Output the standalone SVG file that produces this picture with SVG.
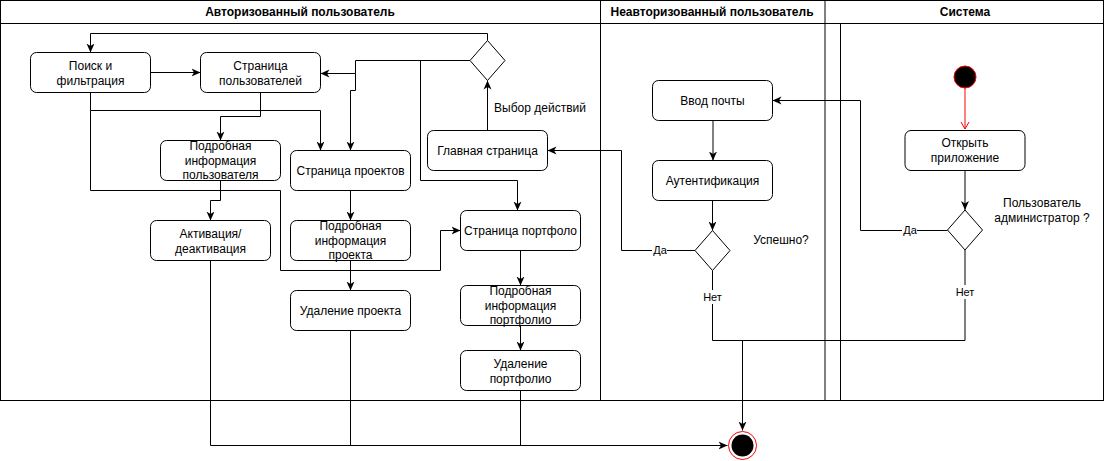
<svg xmlns="http://www.w3.org/2000/svg" width="1106" height="461" viewBox="0 0 1106 461">
<style>
text{font-family:"Liberation Sans",Arial,sans-serif;font-size:12px;fill:#000;text-anchor:middle}
.hdr{font-weight:bold}
.lbl{font-size:11px}
.node{fill:#fff;stroke:#000;stroke-width:1}
.edge{fill:none;stroke:#000;stroke-width:1}
.lane{fill:none;stroke:#000;stroke-width:1}
</style>
<defs>
<marker id="arr" markerUnits="userSpaceOnUse" markerWidth="10" markerHeight="10" viewBox="0 0 10 8" refX="9" refY="4" orient="auto">
<path d="M0,0 L9,4 L0,8 L2.5,4 z" fill="#000"/>
</marker>
<marker id="open" markerUnits="userSpaceOnUse" markerWidth="10" markerHeight="10" viewBox="0 0 10 10" refX="8" refY="5" orient="auto">
<path d="M1,1 L8,5 L1,9" fill="none" stroke="#ff0000" stroke-width="1"/>
</marker>
</defs>

<g id="pool">
<rect x="0.5" y="0.5" width="1103" height="400" fill="#fff" stroke="#000"/>
<line class="lane" x1="0" y1="23.5" x2="1104" y2="23.5"/>
<line class="lane" x1="600.5" y1="0" x2="600.5" y2="400"/>
<line x1="825" y1="0" x2="825" y2="400" stroke="#000" stroke-width="1"/>
<line class="lane" x1="840.5" y1="23" x2="840.5" y2="400"/>
<text class="hdr" x="300" y="16">Авторизованный пользователь</text>
<text class="hdr" x="712" y="16">Неавторизованный пользователь</text>
<text class="hdr" x="965" y="16">Система</text>
</g>

<g id="connectors">
<path d="M965,88 V129" stroke="#ff0000" fill="none" marker-end="url(#open)"/>
<path class="edge" d="M965,170 V210" marker-end="url(#arr)"/>
<path class="edge" d="M947.5,230.5 H860.5 V100.5 H772.5" marker-end="url(#arr)"/>
<path class="edge" d="M965,250 V340.5 H712.5"/>
<path class="edge" d="M712.5,270.5 V340.5"/>
<path class="edge" d="M742.5,340.5 V430.5" marker-end="url(#arr)"/>
<path class="edge" d="M713,120.5 V160.5" marker-end="url(#arr)"/>
<path class="edge" d="M712.5,200.5 V230.5" marker-end="url(#arr)"/>
<path class="edge" d="M695,250.5 H621.5 V150.5 H547.5" marker-end="url(#arr)"/>
<path class="edge" d="M487.5,130.5 V80.5" marker-end="url(#arr)"/>
<path class="edge" d="M487.5,40.5 V33.5 H90.5 V52.5" marker-end="url(#arr)"/>
<path class="edge" d="M470,60.5 H355.5 V73.5 H320.5" marker-end="url(#arr)"/>
<path class="edge" d="M355.5,73.5 V90.5 H350.5 V150.5" marker-end="url(#arr)"/>
<path class="edge" d="M420.5,60.5 V180.5 H517.5 V210.5" marker-end="url(#arr)"/>
<path class="edge" d="M150.5,72.5 H200.5" marker-end="url(#arr)"/>
<path class="edge" d="M90.5,92.5 V110.5 H320.5 V150.5" marker-end="url(#arr)"/>
<path class="edge" d="M90.5,110.5 V190.5 H280.5 V270.5 H440.5 V230.5 H460.5" marker-end="url(#arr)"/>
<path class="edge" d="M260.5,92.5 V116.5 H220.5 V140.5" marker-end="url(#arr)"/>
<path class="edge" d="M220.5,180.5 V200.5 H210.5 V220.5" marker-end="url(#arr)"/>
<path class="edge" d="M350.5,190.5 V220.5" marker-end="url(#arr)"/>
<path class="edge" d="M350.5,260.5 V290.5" marker-end="url(#arr)"/>
<path class="edge" d="M520.5,250.5 V285.5" marker-end="url(#arr)"/>
<path class="edge" d="M520.5,325.5 V350.5" marker-end="url(#arr)"/>
<path class="edge" d="M210.5,260.5 V445.5 H727.5" marker-end="url(#arr)"/>
<path class="edge" d="M350.5,330.5 V445.5"/>
<path class="edge" d="M520.5,390.5 V445.5"/>
<rect x="652" y="243" width="15" height="14" fill="#fff"/>
<text class="lbl" x="660" y="254">Да</text>
<rect x="702" y="290" width="21" height="14" fill="#fff"/>
<text class="lbl" x="712.5" y="301">Нет</text>
<rect x="902" y="223" width="15" height="14" fill="#fff"/>
<text class="lbl" x="910" y="234">Да</text>
<rect x="955" y="285" width="21" height="14" fill="#fff"/>
<text class="lbl" x="965" y="296">Нет</text>
</g>

<g id="n-start"><circle cx="965" cy="77" r="11" fill="#000" stroke="#ff0000" stroke-width="1"/></g>
<g id="n-open"><rect class="node" x="905" y="130.5" width="120" height="40" rx="6"/><text x="965" y="147">Открыть</text><text x="965" y="162">приложение</text></g>
<g id="n-admin"><path class="node" d="M965,210 L982.5,230 L965,250 L947.5,230 Z"/><text x="1042" y="207">Пользователь</text><text x="1042" y="222">администратор ?</text></g>
<g id="n-email"><rect class="node" x="652.5" y="80.5" width="120" height="40" rx="6"/><text x="712.5" y="105">Ввод почты</text></g>
<g id="n-auth"><rect class="node" x="652.5" y="160.5" width="120" height="40" rx="6"/><text x="712.5" y="185">Аутентификация</text></g>
<g id="n-success"><path class="node" d="M712.5,230.5 L730,250.5 L712.5,270.5 L695,250.5 Z"/><text x="781" y="244">Успешно?</text></g>
<g id="n-main"><rect class="node" x="427.5" y="130.5" width="120" height="40" rx="6"/><text x="487.5" y="155">Главная страница</text></g>
<g id="n-action"><path class="node" d="M487.5,40.5 L505,60.5 L487.5,80.5 L470,60.5 Z"/><text x="540" y="112">Выбор действий</text></g>
<g id="n-search"><rect class="node" x="30.5" y="52.5" width="120" height="40" rx="6"/><text x="90.5" y="70">Поиск и</text><text x="90.5" y="85">фильтрация</text></g>
<g id="n-users"><rect class="node" x="200.5" y="52.5" width="120" height="40" rx="6"/><text x="260.5" y="70">Страница</text><text x="260.5" y="85">пользователей</text></g>
<g id="n-userinfo"><rect class="node" x="160.5" y="140.5" width="120" height="40" rx="6"/><text x="220.5" y="150">Подробная</text><text x="220.5" y="164.5">информация</text><text x="220.5" y="179">пользователя</text></g>
<g id="n-activation"><rect class="node" x="150.5" y="220.5" width="120" height="40" rx="6"/><text x="210.5" y="238">Активация/</text><text x="210.5" y="253">деактивация</text></g>
<g id="n-projects"><rect class="node" x="290.5" y="150.5" width="120" height="40" rx="6"/><text x="350.5" y="175">Страница проектов</text></g>
<g id="n-projinfo"><rect class="node" x="290.5" y="220.5" width="120" height="40" rx="6"/><text x="350.5" y="230">Подробная</text><text x="350.5" y="244.5">информация</text><text x="350.5" y="259">проекта</text></g>
<g id="n-projdel"><rect class="node" x="290.5" y="290.5" width="120" height="40" rx="6"/><text x="350.5" y="315">Удаление проекта</text></g>
<g id="n-portfolio"><rect class="node" x="460.5" y="210.5" width="120" height="40" rx="6"/><text x="520.5" y="235">Страница портфоло</text></g>
<g id="n-portinfo"><rect class="node" x="460.5" y="285.5" width="120" height="40" rx="6"/><text x="520.5" y="295">Подробная</text><text x="520.5" y="309.5">информация</text><text x="520.5" y="324">портфолио</text></g>
<g id="n-portdel"><rect class="node" x="460.5" y="350.5" width="120" height="40" rx="6"/><text x="520.5" y="368">Удаление</text><text x="520.5" y="383">портфолио</text></g>
<g id="n-end"><circle cx="742.5" cy="445.5" r="14" fill="#fff" stroke="#ff0000" stroke-width="1"/><circle cx="742.5" cy="445.5" r="11" fill="#000"/></g>
</svg>
